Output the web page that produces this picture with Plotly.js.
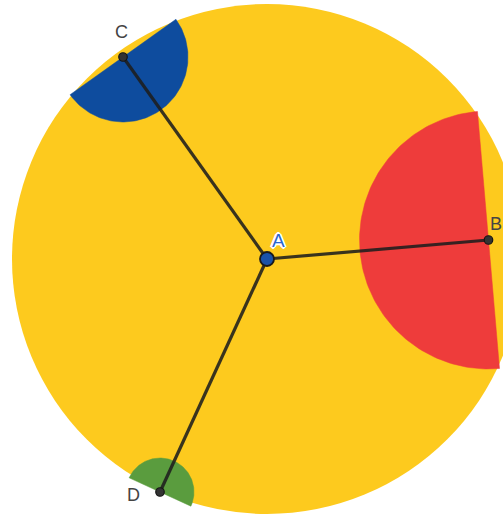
<!DOCTYPE html>
<html>
<head>
<meta charset="utf-8">
<script src="https://cdn.plot.ly/plotly-3.0.1.min.js"></script>
<style>html,body{margin:0;padding:0;background:#fff;}#plot{width:503px;height:515px;}</style>
</head>
<body>
<div id="plot"></div>
<script>
// Point names and positions (pixel-like units, y downward)
const pointNames = ["A", "B", "C", "D"];
const pointX = [267, 488.5, 123, 160];
const pointY = [259, 240, 57, 492];
// Main circle centered at A
const circleRadius = 255;
// Half-disks at B, C, D (facing A)
const sectorPoints = ["B", "C", "D"];
const sectorRadii = [129, 65, 34];
const sectorColors = ["#EE3C3B", "#0E4C9E", "#5A9C3E"];
// Label positions
const labelX = [278.5, 496, 121.5, 133];
const labelY = [240, 224, 32, 495];

const idx = n => pointNames.indexOf(n);
const ax = pointX[0], ay = pointY[0];

const traces = [];
sectorPoints.forEach((name, k) => {
  const i = idx(name);
  const px = pointX[i], py = pointY[i], r = sectorRadii[k];
  const th = Math.atan2(ay - py, ax - px);
  const xs = [], ys = [];
  const N = 120;
  for (let j = 0; j <= N; j++) {
    const a = th - Math.PI / 2 + Math.PI * j / N;
    xs.push(px + r * Math.cos(a));
    ys.push(py + r * Math.sin(a));
  }
  xs.push(xs[0]); ys.push(ys[0]);
  traces.push({
    type: "scatter", mode: "lines", x: xs, y: ys, fill: "toself",
    fillcolor: sectorColors[k], line: {color: sectorColors[k], width: 0.5},
    hoverinfo: "skip", showlegend: false
  });
});

// Segments from A to B, C, D
["B", "C", "D"].forEach(name => {
  const i = idx(name);
  traces.push({
    type: "scatter", mode: "lines", x: [ax, pointX[i]], y: [ay, pointY[i]],
    line: {color: "rgba(30,30,30,0.88)", width: 3.2}, hoverinfo: "skip", showlegend: false
  });
});

// Points
traces.push({
  type: "scatter", mode: "markers",
  x: pointX.slice(1), y: pointY.slice(1),
  marker: {size: 8.5, color: "#333333", line: {color: "#151515", width: 1.2}},
  hoverinfo: "skip", showlegend: false
});
traces.push({
  type: "scatter", mode: "markers",
  x: [pointX[0]], y: [pointY[0]],
  marker: {size: 14, color: "#1A52A8", line: {color: "#1a1a1a", width: 1.8}},
  hoverinfo: "skip", showlegend: false
});

const annotations = pointNames.map((n, i) => ({
  x: labelX[i], y: labelY[i], xref: "x", yref: "y", text: n, showarrow: false,
  xanchor: "center", yanchor: "middle",
  font: i === 0
    ? {family: "Liberation Sans, Arial, sans-serif", size: 19, color: "#2A66D0",
       shadow: "1px 1px 0 #fff, -1px -1px 0 #fff, 1px -1px 0 #fff, -1px 1px 0 #fff, 2px 0 0 #fff, -2px 0 0 #fff, 0 2px 0 #fff, 0 -2px 0 #fff"}
    : {family: "Liberation Sans, Arial, sans-serif", size: 18, color: "#444444"}
}));

const layout = {
  width: 503, height: 515,
  margin: {l: 0, r: 0, t: 0, b: 0},
  paper_bgcolor: "#ffffff", plot_bgcolor: "#ffffff",
  xaxis: {range: [0, 503], visible: false, fixedrange: true},
  yaxis: {range: [515, 0], visible: false, fixedrange: true},
  shapes: [{
    type: "circle", xref: "x", yref: "y", layer: "below",
    x0: ax - circleRadius, x1: ax + circleRadius,
    y0: ay - circleRadius, y1: ay + circleRadius,
    fillcolor: "#FDCA1E", line: {width: 0}
  }],
  annotations: annotations,
  showlegend: false
};

Plotly.newPlot("plot", traces, layout, {displayModeBar: false, staticPlot: true});
</script>
</body>
</html>
